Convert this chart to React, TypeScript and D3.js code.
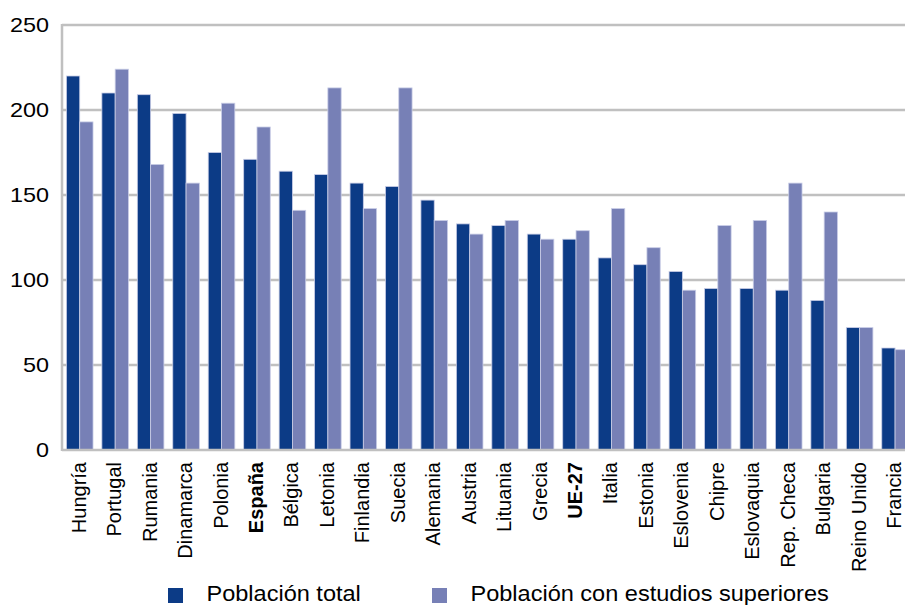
import React from 'react'
import * as d3 from 'd3'

const countries = [
  'Hungría', 'Portugal', 'Rumania', 'Dinamarca', 'Polonia', 'España', 'Bélgica', 'Letonia',
  'Finlandia', 'Suecia', 'Alemania', 'Austria', 'Lituania', 'Grecia', 'UE-27', 'Italia',
  'Estonia', 'Eslovenia', 'Chipre', 'Eslovaquia', 'Rep. Checa', 'Bulgaria', 'Reino Unido', 'Francia',
]

const total = [220, 210, 209, 198, 175, 171, 164, 162, 157, 155, 147, 133, 132, 127, 124, 113, 109, 105, 95, 95, 94, 88, 72, 60]
const superiores = [193, 224, 168, 157, 204, 190, 141, 213, 142, 213, 135, 127, 135, 124, 129, 142, 119, 94, 132, 135, 157, 140, 72, 59]

const boldLabels = ['España', 'UE-27']
const seriesNames = ['Población total', 'Población con estudios superiores']
const seriesColors = ['#0c3b86', '#7780b6']
const yTicks = [0, 50, 100, 150, 200, 250]

export default function App() {
  const width = 905
  const height = 605
  const margin = { top: 25, left: 62, bottom: 155 }
  const plotBottom = height - margin.bottom // 450
  const step = 35.45

  const xScale = d3.scaleBand<string>()
    .domain(countries)
    .range([margin.left, margin.left + step * countries.length])
    .paddingInner(0.25)
    .paddingOuter(0.125)

  const xInner = d3.scaleBand<number>()
    .domain([0, 1])
    .range([0, xScale.bandwidth()])

  const yScale = d3.scaleLinear()
    .domain([0, 250])
    .range([plotBottom, margin.top])

  const series = [total, superiores]
  const font = "'Liberation Sans', Arial, sans-serif"

  return (
    <svg
      width={width}
      height={height}
      style={{ position: 'absolute', left: 0, top: 0, background: '#fff' }}
      fontFamily={font}
    >
      {/* gridlines */}
      {yTicks.filter(t => t > 0).map(t => (
        <line key={t} x1={margin.left} x2={width} y1={yScale(t)} y2={yScale(t)} stroke="#c0c0c0" strokeWidth={2.5} />
      ))}

      {/* bars */}
      {countries.map((c, i) => (
        <g key={c}>
          {series.map((s, si) => (
            <rect
              key={si}
              x={(xScale(c) as number) + (xInner(si) as number)}
              y={yScale(s[i])}
              width={xInner.bandwidth()}
              height={plotBottom - yScale(s[i])}
              fill={seriesColors[si]}
              stroke="#c9cde6"
              strokeWidth={0.8}
            />
          ))}
        </g>
      ))}

      {/* axes */}
      <line x1={margin.left} x2={margin.left} y1={margin.top - 1} y2={plotBottom + 1} stroke="#c0c0c0" strokeWidth={2.5} />
      <line x1={margin.left} x2={width} y1={plotBottom} y2={plotBottom} stroke="#c0c0c0" strokeWidth={2.5} />

      {/* y tick labels */}
      {yTicks.map(t => (
        <g key={t} transform={`translate(49, ${yScale(t)}) scale(1.17, 1)`}>
          <text textAnchor="end" dy="0.36em" fontSize={20} fill="#000">{t}</text>
        </g>
      ))}

      {/* x labels */}
      {countries.map(c => {
        const cx = (xScale(c) as number) + xScale.bandwidth() / 2 + 6
        return (
          <text
            key={c}
            transform={`translate(${cx}, 462) rotate(-90)`}
            textAnchor="end"
            fontSize={20}
            fontWeight={boldLabels.includes(c) ? 'bold' : 'normal'}
            fill="#000"
          >
            {c}
          </text>
        )
      })}

      {/* legend */}
      {seriesNames.map((name, i) => {
        const mx = i === 0 ? 168 : 432
        return (
          <g key={name}>
            <rect x={mx} y={588} width={15} height={15} fill={seriesColors[i]} />
            <g transform={`translate(${mx + 38.5}, 601) scale(1.07, 1)`}>
              <text fontSize={22} fill="#000">{name}</text>
            </g>
          </g>
        )
      })}
    </svg>
  )
}
